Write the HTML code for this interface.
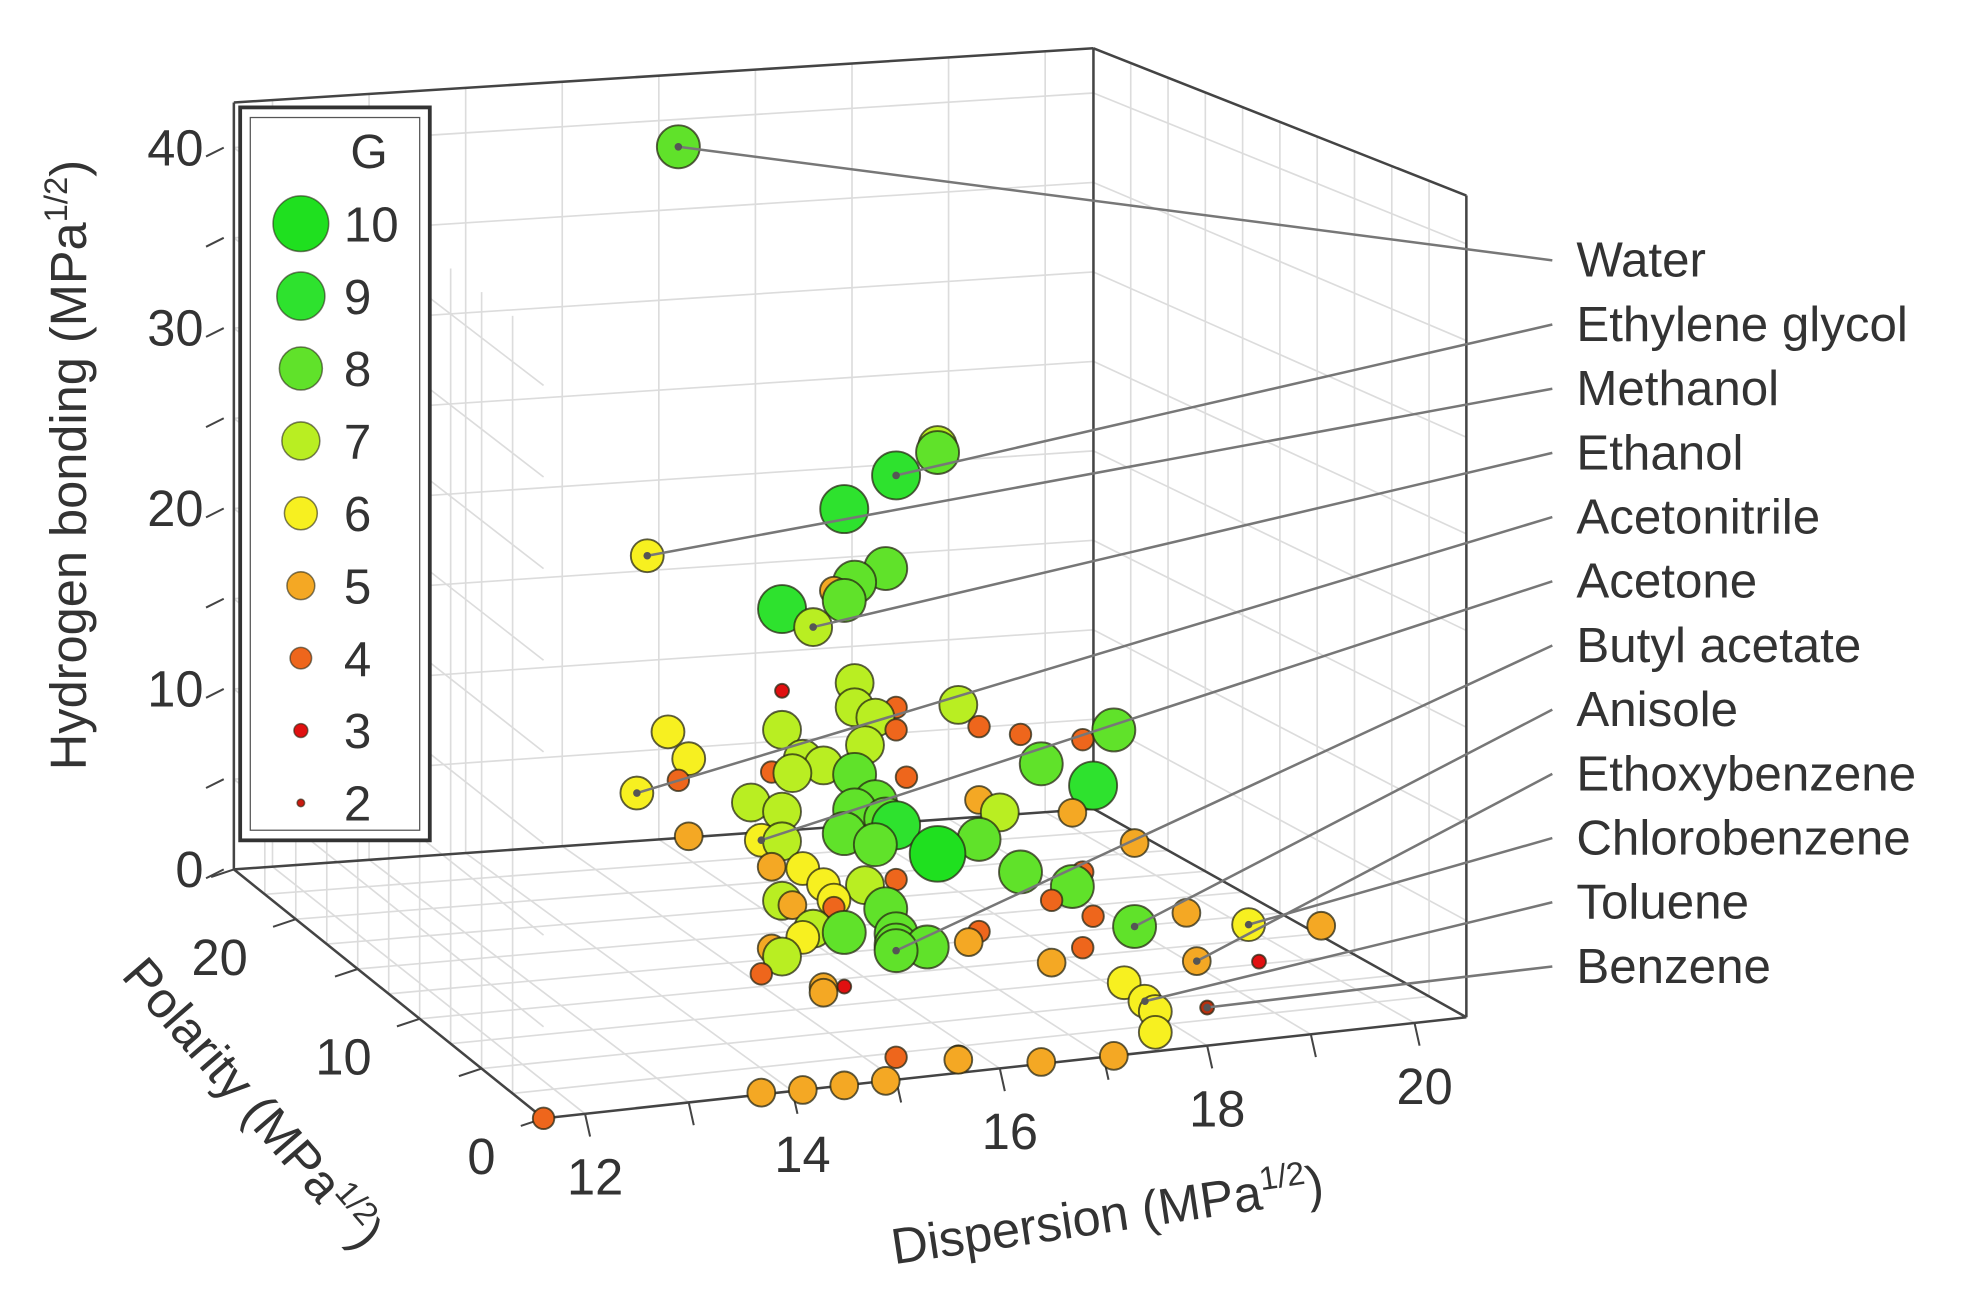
<!DOCTYPE html>
<html><head><meta charset="utf-8"><style>
html,body{margin:0;padding:0;background:#fff;}
svg{display:block;}
text{font-family:"Liberation Sans",Arial,sans-serif;fill:#333;}
</style></head>
<body>
<svg id="chart" width="1972" height="1294" viewBox="0 0 1560 1024" preserveAspectRatio="none" xmlns="http://www.w3.org/2000/svg">
<g id="grid"></g>
<g id="frame"></g>
<g id="ticks"></g>
<g id="points"></g>
<g id="leaders"></g>
<g id="legend"></g>
<text transform="translate(68,368) rotate(-90)" text-anchor="middle" font-size="40">Hydrogen bonding (MPa<tspan dy="-15" font-size="26">1/2</tspan><tspan dy="15">)</tspan></text>
<text transform="translate(190,882) rotate(49)" text-anchor="middle" font-size="40">Polarity (MPa<tspan dy="-15" font-size="26">1/2</tspan><tspan dy="15">)</tspan></text>
<text transform="translate(878,975) rotate(-8.5)" text-anchor="middle" font-size="40">Dispersion (MPa<tspan dy="-15" font-size="26">1/2</tspan><tspan dy="15">)</tspan></text>
</svg>
<script>
const dispersion=[12.9,15.4,15.4,15.0,14.5,12.6,14.9,14.6,14.4,14.5,13.9,14.2,14.6,14.6,14.8,15.0,15.0,15.6,15.8,16.2,16.8,17.1,16.4,16.9,13.9,12.8,13.0,12.9,12.5,13.9,14.1,14.0,13.8,14.3,14.7,14.6,15.1,13.6,13.9,14.6,14.8,14.9,15.0,15.8,16.0,16.7,13.0,13.7,13.9,14.5,14.8,15.4,15.8,17.3,13.8,14.1,14.3,14.7,15.0,16.2,16.8,16.7,13.9,14.4,14.0,14.4,14.9,15.0,16.5,16.9,17.3,17.8,18.4,19.1,14.2,14.1,14.5,15.0,15.3,15.0,15.7,15.8,13.8,13.9,13.7,14.3,14.5,14.3,16.8,16.5,17.9,18.5,17.2,17.4,17.5,17.5,18.0,11.6,13.7,14.1,14.5,14.9,15.0,15.6,15.6,16.4,17.1];
const hbond=[51.8,33.6,33.2,32.3,30.9,29.9,27.4,26.9,26.6,26.0,26.0,24.8,21.5,20.2,19.5,19.9,18.7,19.6,18.3,17.6,16.9,17.2,15.9,14.4,21.6,20.2,18.6,17.5,17.1,19.5,17.8,17.1,17.3,17.3,18.1,16.6,16.1,15.8,15.1,14.7,15.0,14.0,13.6,14.4,13.6,13.1,14.4,13.7,13.5,13.5,12.7,11.8,12.3,11.1,12.2,11.9,10.9,10.6,10.7,10.3,9.9,9.2,10.3,10.0,10.0,9.6,9.2,7.8,8.6,7.5,6.7,7.1,6.1,5.6,8.6,8.2,8.2,7.2,6.9,6.9,6.9,7.4,7.8,7.3,6.5,5.4,5.3,5.1,5.9,5.3,4.5,4.1,3.8,2.7,2.1,1.0,2.0,0,0.1,0,0,0,1.2,0.9,0.7,0.1,0];
const polarity=dispersion.map(()=>0);
const gScore=[8,7,8,9,9,6,8,8,5,8,9,7,7,7,7,4,4,7,4,4,4,8,8,9,3,6,6,4,6,7,7,7,4,7,7,8,4,7,7,8,8,8,9,5,7,5,5,6,7,8,8,10,8,5,5,6,6,7,4,8,4,8,7,6,5,4,8,8,4,4,8,5,6,5,7,6,8,8,8,8,5,4,5,7,4,5,3,5,4,5,5,3,6,6,6,6,3,4,5,5,5,5,4,4,5,5,5];
const labelNames=["Water","Ethylene glycol","Methanol","Ethanol","Acetonitrile","Acetone","Butyl acetate","Anisole","Ethoxybenzene","Chlorobenzene","Toluene","Benzene"];
const labelPoint=[0,3,5,11,28,47,79,70,90,72,93,96];
const dTicks=[12,14,16,18,20];
const pTicks=[0,10,20];
const hTicks=[0,10,20,30,40];
const legendG=[10,9,8,7,6,5,4,3,2];

const NS="http://www.w3.org/2000/svg";
const D0=11.6,D1=20.5,P1=25,Htop=42.5;
const FL=[430,885],FR=[1160,805],BR=[865,640],BL=[185,688];
const hsFL=14.5,hsFR=15.3,hsBR=14.16,hsBL=14.28;
function proj(d,p,h){
  const s=(d-D0)/(D1-D0),t=p/P1;
  const a=(1-s)*(1-t),b=s*(1-t),c=s*t,e=(1-s)*t;
  const x=a*FL[0]+b*FR[0]+c*BR[0]+e*BL[0];
  const y=a*FL[1]+b*FR[1]+c*BR[1]+e*BL[1];
  const hs=a*hsFL+b*hsFR+c*hsBR+e*hsBL;
  return [x,y-hs*h];
}
function radius(g){return [0,0,3,5.5,8.5,11,13,15,17,19,22][g];}
const colors={10:"#1fe01f",9:"#2ee22e",8:"#60e22a",7:"#b9ee22",6:"#f7f020",5:"#f4a824",4:"#ee661c",3:"#e01010",2:"#c81a10"};
function line(g,p,q,stroke,w){
  const l=document.createElementNS(NS,"line");
  l.setAttribute("x1",p[0]);l.setAttribute("y1",p[1]);l.setAttribute("x2",q[0]);l.setAttribute("y2",q[1]);
  l.setAttribute("stroke",stroke);l.setAttribute("stroke-width",w);
  g.appendChild(l);return l;
}
function txt(g,x,y,s,size,anchor){
  const t=document.createElementNS(NS,"text");
  t.setAttribute("x",x);t.setAttribute("y",y);t.setAttribute("font-size",size);
  if(anchor)t.setAttribute("text-anchor",anchor);
  t.textContent=s;g.appendChild(t);return t;
}
const grid=document.getElementById("grid"),gc="#dcdcdc";
for(let d=12;d<=20;d++){const l=line(grid,proj(d,P1,0),proj(d,P1,Htop),gc,1.3);

}
for(let h=5;h<=40;h+=5){line(grid,proj(D0,P1,h),proj(D1,P1,h),gc,1.3);
line(grid,proj(D0,0,h),proj(D0,P1,h),gc,1.3);
line(grid,proj(D1,0,h),proj(D1,P1,h),gc,1.3);}
for(let p=2.5;p<P1;p+=2.5){line(grid,proj(D0,p,0),proj(D0,p,Htop),gc,1.3);
line(grid,proj(D1,p,0),proj(D1,p,Htop),gc,1.3);
line(grid,proj(D0,p,0),proj(D1,p,0),gc,1.3);}
for(let d=12;d<=20;d++){line(grid,proj(d,0,0),proj(d,P1,0),gc,1.3);}
const fr=document.getElementById("frame"),fc="#444";
[[proj(D0,0,0),proj(D1,0,0)],[proj(D0,0,0),proj(D0,P1,0)],[proj(D1,0,0),proj(D1,P1,0)],[proj(D0,P1,0),proj(D1,P1,0)],
 [proj(D0,P1,0),proj(D0,P1,Htop)],[proj(D1,P1,0),proj(D1,P1,Htop)],[proj(D1,0,0),proj(D1,0,Htop)],
 [proj(D0,P1,Htop),proj(D1,P1,Htop)],[proj(D1,P1,Htop),proj(D1,0,Htop)]].forEach(e=>{
  const l=line(fr,e[0],e[1],fc,2);
  
  
});
const tk=document.getElementById("ticks");
for(let h=0;h<=40;h+=5){const p=proj(D0,P1,h);line(tk,[p[0]-8,p[1]],[p[0]-22,p[1]+7],fc,1.6);}
hTicks.forEach(h=>{const p=proj(D0,P1,h);const t=txt(tk,p[0]-24,p[1]+14,String(h),40,"end");

});
for(let p=0;p<=P1;p+=5){const q=proj(D0,p,0);line(tk,q,[q[0]-18,q[1]+6],fc,1.6);}
pTicks.forEach(p=>{const q=proj(D0,p,0);const t=txt(tk,q[0]-38,q[1]+44,String(p),40,"end");

});
for(let d=12;d<=20;d++){const q=proj(d,0,0);line(tk,q,[q[0]+4,q[1]+18],fc,1.6);}
dTicks.forEach(d=>{const q=proj(d,0,0);const t=txt(tk,q[0]+8,q[1]+64,String(d),40,"middle");

});
const pg=document.getElementById("points");
const order=dispersion.map((_,i)=>i).sort((a,b)=>proj(dispersion[a],polarity[a],hbond[a])[1]-proj(dispersion[b],polarity[b],hbond[b])[1]);
order.forEach(i=>{
  const q=proj(dispersion[i],polarity[i],hbond[i]);
  const c=document.createElementNS(NS,"circle");
  c.setAttribute("cx",q[0]);c.setAttribute("cy",q[1]);c.setAttribute("r",radius(gScore[i]));
  c.setAttribute("fill",i===96?"#b8300e":colors[gScore[i]]);
  c.setAttribute("stroke","rgba(40,40,20,0.75)");c.setAttribute("stroke-width",1.5);
  
  
  pg.appendChild(c);
});
const lg=document.getElementById("leaders");
labelNames.forEach((n,k)=>{
  const i=labelPoint[k];const q=proj(dispersion[i],polarity[i],hbond[i]);
  const ly=206+k*50.8;
  const l=line(lg,q,[1228,ly],"#777",2);
  
  
  const dot=document.createElementNS(NS,"circle");
  dot.setAttribute("cx",q[0]);dot.setAttribute("cy",q[1]);dot.setAttribute("r",3);dot.setAttribute("fill","#555");
  
  
  lg.appendChild(dot);
  const t=txt(lg,1247,ly+13,n,39);
  
  
});
const lgd=document.getElementById("legend");
const r1=document.createElementNS(NS,"rect");
r1.setAttribute("x",190);r1.setAttribute("y",85);r1.setAttribute("width",150);r1.setAttribute("height",580);
r1.setAttribute("fill","#fff");r1.setAttribute("stroke","#333");r1.setAttribute("stroke-width",3);


lgd.appendChild(r1);
const r2=document.createElementNS(NS,"rect");
r2.setAttribute("x",198);r2.setAttribute("y",93);r2.setAttribute("width",134);r2.setAttribute("height",564);
r2.setAttribute("fill","none");r2.setAttribute("stroke","#555");r2.setAttribute("stroke-width",1);
lgd.appendChild(r2);
const gt=txt(lgd,292,133,"G",38,"middle");


legendG.forEach((g,k)=>{
  const y=177+k*57.3;
  const c=document.createElementNS(NS,"circle");
  c.setAttribute("cx",238);c.setAttribute("cy",y);c.setAttribute("r",radius(g));
  c.setAttribute("fill",colors[g]);c.setAttribute("stroke","rgba(40,40,20,0.6)");c.setAttribute("stroke-width",1.2);
  
  
  lgd.appendChild(c);
  const t=txt(lgd,272,y+14,String(g),39);
  
  
});
</script>
</body></html>
